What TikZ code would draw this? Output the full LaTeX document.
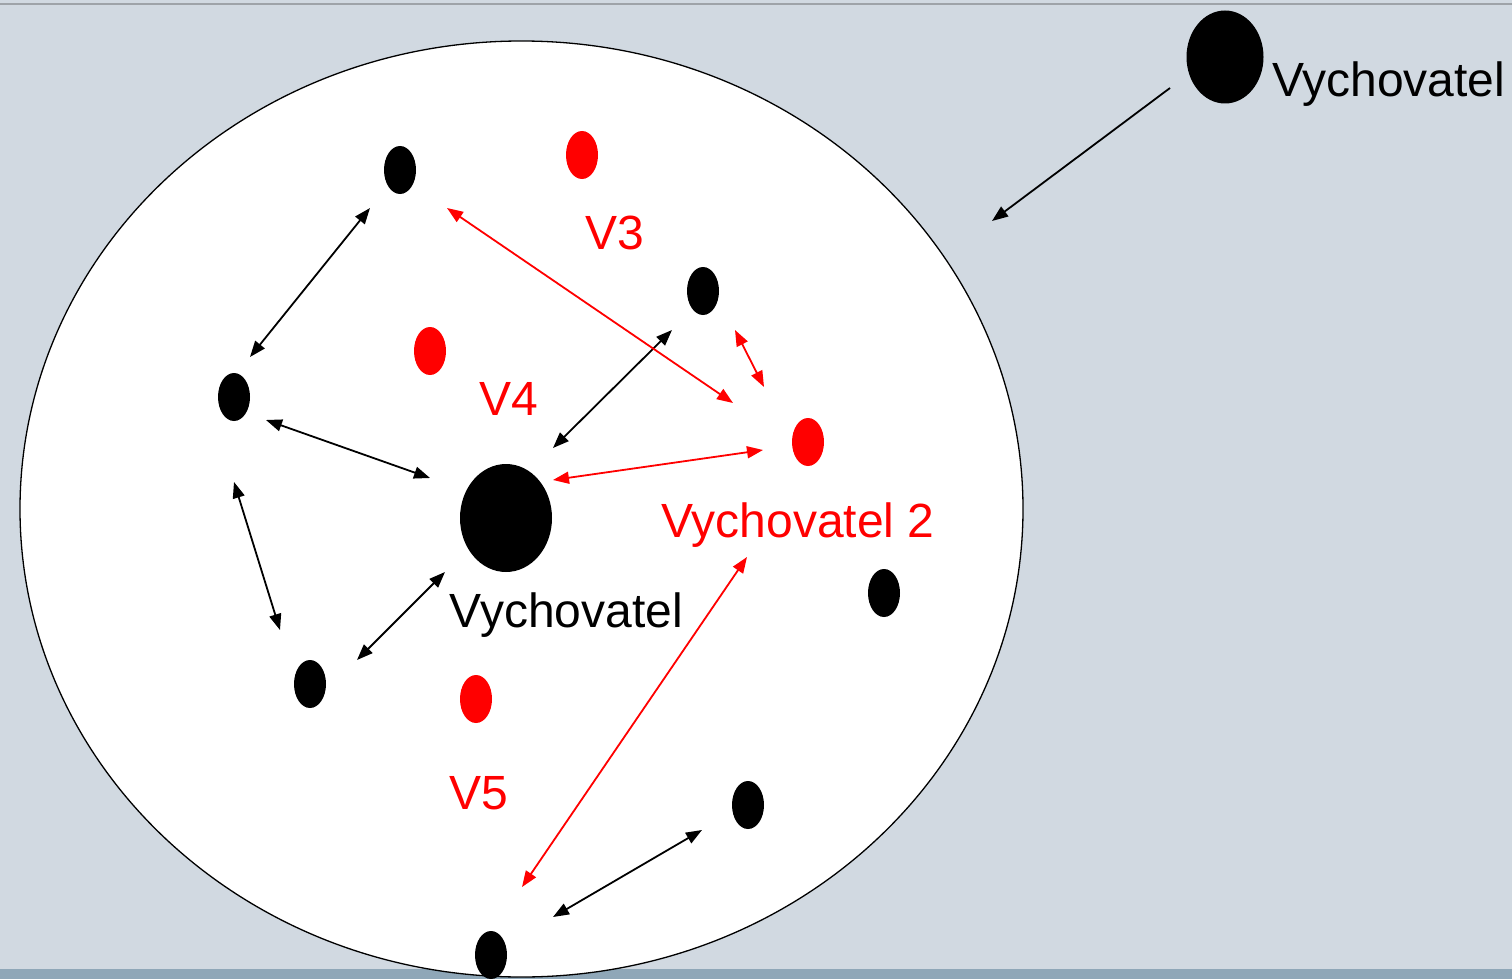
\documentclass[tikz,border=0pt]{standalone}
\usepackage{fontspec}
\setmainfont{Liberation Sans}
\usetikzlibrary{arrows.meta,shapes.geometric}
\definecolor{bgcol}{RGB}{209,217,225}
\definecolor{bandcol}{RGB}{143,167,184}
\definecolor{topline}{RGB}{158,163,168}
\definecolor{redc}{RGB}{255,0,0}
\tikzset{
  dot/.style={ellipse, fill=black, inner sep=0pt, minimum width=32pt, minimum height=48pt},
  rdot/.style={dot, fill=redc},
  lbl/.style={font=\fontsize{48}{56}\selectfont, inner sep=0pt},
  rlbl/.style={lbl, text=redc},
  barr/.style={{Triangle[length=16pt,width=12pt]}-{Triangle[length=16pt,width=12pt]}, line width=1.8pt, black},
  rarr/.style={barr, draw=redc, fill=redc},
  sarr/.style={-{Triangle[length=16pt,width=12pt]}, line width=1.8pt, black}
}
\begin{document}
\begin{tikzpicture}[x=1pt,y=-1pt]
\useasboundingbox (0,0) rectangle (1512,979);
\fill[bgcol] (0,0) rectangle (1512,979);
\fill[bandcol] (0,969) rectangle (1512,979);
\draw[topline, line width=1.5pt] (0,4) -- (1512,4);
\draw[line width=1.3pt, fill=white] (521.5,509) ellipse [x radius=501.5, y radius=468];

% nodes
\node[dot, minimum width=77pt, minimum height=93pt] (vt) at (1225,57) {};
\node[lbl, anchor=base west] (vtl) at (1272,97) {Vychovatel};
\node[dot, minimum width=92pt, minimum height=108pt] (vc) at (506,518) {};
\node[lbl, anchor=base] (vcl) at (566.5,627) {Vychovatel};

\node[dot] (b1) at (400,170) {};
\node[dot] (b2) at (703,291) {};
\node[dot] (b3) at (234,397) {};
\node[dot] (b4) at (310,684) {};
\node[dot] (b5) at (884,593) {};
\node[dot] (b6) at (748,805) {};
\node[dot] (b7) at (491,955) {};

\node[rdot] (r1) at (582,155) {};
\node[rdot] (r2) at (430,351) {};
\node[rdot] (r3) at (808,442) {};
\node[rdot] (r4) at (476,699) {};

\node[rlbl, anchor=base] (v3) at (615,249) {V3};
\node[rlbl, anchor=base] (v4) at (509,415) {V4};
\node[rlbl, anchor=base] (v2) at (798,537) {Vychovatel 2};
\node[rlbl, anchor=base] (v5) at (479,809) {V5};

% arrow end points
\coordinate (a1s) at (370,208); \coordinate (a1e) at (250,357);
\coordinate (a2s) at (266,420); \coordinate (a2e) at (430,478);
\coordinate (a3s) at (234,482); \coordinate (a3e) at (280,630);
\coordinate (a4s) at (445,572); \coordinate (a4e) at (357,660);
\coordinate (a5s) at (672,330); \coordinate (a5e) at (553,448);
\coordinate (a6s) at (702,830); \coordinate (a6e) at (553,917);
\coordinate (a7s) at (1170,88); \coordinate (a7e) at (992,221);
\coordinate (r1s) at (447,208); \coordinate (r1e) at (733,403);
\coordinate (r2s) at (735,330); \coordinate (r2e) at (764,387);
\coordinate (r3s) at (553,480); \coordinate (r3e) at (763,450);
\coordinate (r4s) at (747,557); \coordinate (r4e) at (522,887);

\draw[barr] (a1s) -- (a1e);
\draw[barr] (a2s) -- (a2e);
\draw[barr] (a3s) -- (a3e);
\draw[barr] (a4s) -- (a4e);
\draw[barr] (a5s) -- (a5e);
\draw[barr] (a6s) -- (a6e);
\draw[sarr] (a7s) -- (a7e);
\draw[rarr] (r1s) -- (r1e);
\draw[rarr] (r2s) -- (r2e);
\draw[rarr] (r3s) -- (r3e);
\draw[rarr] (r4s) -- (r4e);
\end{tikzpicture}
\end{document}
